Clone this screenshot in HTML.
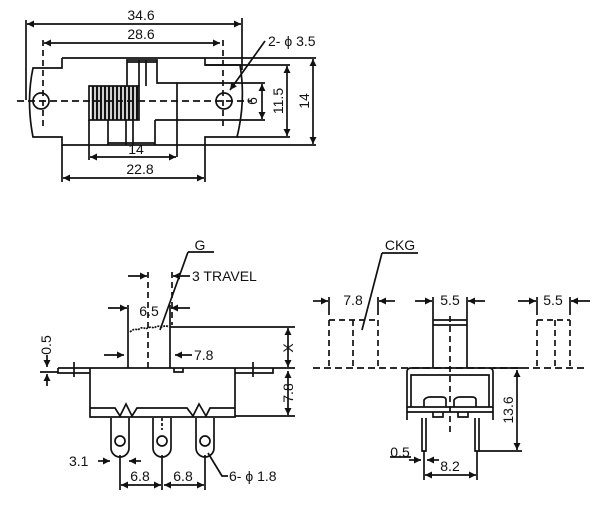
<!DOCTYPE html>
<html><head><meta charset="utf-8"><style>
html,body{margin:0;padding:0;background:#fff}
svg{display:block}
text{font-family:"Liberation Sans",sans-serif;font-size:14px;fill:#111}
</style></head><body>
<svg width="600" height="506" viewBox="0 0 600 506" xmlns="http://www.w3.org/2000/svg">
<defs>
<marker id="a" viewBox="0 0 10 10" refX="10" refY="5" markerWidth="9" markerHeight="7" orient="auto-start-reverse" markerUnits="userSpaceOnUse"><path d="M0,0L10,5L0,10z" fill="#111"/></marker>
</defs>
<g stroke="#111" stroke-width="1.7" fill="none">
<line x1="27" y1="24" x2="241" y2="24" marker-start="url(#a)" marker-end="url(#a)"/>
<line x1="44" y1="43" x2="220" y2="43" marker-start="url(#a)" marker-end="url(#a)"/>
<line x1="26" y1="20" x2="26" y2="100"/>
<line x1="242" y1="18" x2="242" y2="70"/>
<line x1="43" y1="40" x2="43" y2="126" stroke-dasharray="6,4"/>
<line x1="223" y1="40" x2="223" y2="126" stroke-dasharray="6,4"/>
<path d="M62,58 H205 M62,58 V68 H33 Q26,101 33,137 H62 V145 H205 V137 H237 Q246,101 240,65 H205 V58 M205,58 H316"/>
<line x1="205" y1="65" x2="290" y2="65"/>
<line x1="177" y1="83" x2="265" y2="83"/>
<line x1="155" y1="120" x2="265" y2="120"/>
<line x1="237" y1="137" x2="290" y2="137"/>
<line x1="205" y1="145" x2="316" y2="145"/>
<line x1="17" y1="101" x2="252" y2="101" stroke-dasharray="7,4"/>
<circle cx="41" cy="101" r="8"/>
<circle cx="224" cy="101" r="8"/>
<rect x="89" y="86" width="50" height="34"/>
<path d="M93,86V120M97,86V120M101,86V120M105,86V120M109,86V120M113,86V120M117,86V120M121,86V120M125,86V120M129,86V120M133,86V120M137,86V120" stroke-width="2.4"/>
<path d="M127,86 V60 H157 V83 H177 V157 M139,60 V86 M146,60 V86 M127,62 H157"/>
<path d="M108,120 V145 M126,120 V145 M133,120 V145 M155,120 V145 M108,143 H155 M89,120 V160"/>
<line x1="90" y1="157" x2="176" y2="157" marker-start="url(#a)" marker-end="url(#a)"/>
<line x1="62" y1="145" x2="62" y2="182"/>
<line x1="205" y1="145" x2="205" y2="182"/>
<line x1="63" y1="178" x2="204" y2="178" marker-start="url(#a)" marker-end="url(#a)"/>
<line x1="262" y1="84" x2="262" y2="119" marker-start="url(#a)" marker-end="url(#a)"/>
<line x1="287" y1="66" x2="287" y2="136" marker-start="url(#a)" marker-end="url(#a)"/>
<line x1="313" y1="59" x2="313" y2="144" marker-start="url(#a)" marker-end="url(#a)"/>
<line x1="265" y1="41" x2="230" y2="90" marker-end="url(#a)"/>
<path d="M188,252 H214 M188,252 L160,330"/>
<line x1="128" y1="276" x2="147" y2="276" marker-end="url(#a)"/>
<line x1="190" y1="276" x2="173" y2="276" marker-end="url(#a)"/>
<line x1="148" y1="272" x2="148" y2="368" stroke-dasharray="6,4"/>
<line x1="172" y1="272" x2="172" y2="325" stroke-dasharray="6,4"/>
<line x1="108" y1="308" x2="127" y2="308" marker-end="url(#a)"/>
<line x1="190" y1="308" x2="171" y2="308" marker-end="url(#a)"/>
<path d="M128,305 V368 M170,305 V368 M170,327 H295"/>
<path d="M130,332 Q134,328 138,330 Q142,326 146,329 Q150,326 154,328 Q158,325 162,327 Q166,325 169,327" stroke-dasharray="2,1"/>
<line x1="104" y1="355" x2="124" y2="355" marker-end="url(#a)"/>
<line x1="192" y1="355" x2="175" y2="355" marker-end="url(#a)"/>
<path d="M58,368 H295 M58,368 V373 H90 M235,373 H273 V368 M174,368 V372 H183 V368 M74,362 V377 M253,362 V377"/>
<path d="M90,368 V417 H235 V368 M90,408 H115 L120,416 L126,404 L132,416 L137,408 H187 L193,416 L199,404 L206,416 L210,408 H235 M235,416 H295"/>
<line x1="288" y1="328" x2="288" y2="367" marker-start="url(#a)" marker-end="url(#a)"/>
<line x1="288" y1="371" x2="288" y2="415" marker-start="url(#a)" marker-end="url(#a)"/>
<line x1="47" y1="355" x2="47" y2="367" marker-end="url(#a)"/>
<line x1="47" y1="386" x2="47" y2="374" marker-end="url(#a)"/>
<line x1="40" y1="372" x2="58" y2="372"/>
<path d="M111,418 V448 A9,9 0 0 0 129,448 V418 M153,418 V448 A9,9 0 0 0 171,448 V418 M196,418 V448 A9,9 0 0 0 214,448 V418"/>
<circle cx="120" cy="441" r="5"/><circle cx="162" cy="441" r="5"/><circle cx="205" cy="441" r="5"/>
<line x1="162" y1="418" x2="162" y2="430" stroke-dasharray="3,2"/>
<line x1="98" y1="461" x2="110" y2="461" marker-end="url(#a)"/>
<line x1="141" y1="461" x2="129" y2="461" marker-end="url(#a)"/>
<path d="M120,455 V490 M162,455 V490 M205,455 V490"/>
<line x1="121" y1="485" x2="161" y2="485" marker-start="url(#a)" marker-end="url(#a)"/>
<line x1="164" y1="485" x2="204" y2="485" marker-start="url(#a)" marker-end="url(#a)"/>
<path d="M208,453 L222,476 H228"/>
<path d="M382,253 H418 M382,253 L362,330"/>
<line x1="313" y1="368" x2="585" y2="368" stroke-dasharray="7,4"/>
<path d="M329,320 V368 M353,320 V368 M378,320 V368 M329,320 H378" stroke-dasharray="6,4"/>
<path d="M329,297 V315 M378,297 V315"/>
<line x1="313" y1="301" x2="328" y2="301" marker-end="url(#a)"/>
<line x1="395" y1="301" x2="379" y2="301" marker-end="url(#a)"/>
<path d="M433,297 V368 M467,297 V368 M433,320 H467 M433,325 H467"/>
<line x1="415" y1="301" x2="432" y2="301" marker-end="url(#a)"/>
<line x1="485" y1="301" x2="468" y2="301" marker-end="url(#a)"/>
<line x1="450" y1="316" x2="450" y2="435" stroke-dasharray="6,4"/>
<path d="M537,320 V368 M555,320 V368 M570,320 V368 M537,320 H570" stroke-dasharray="6,4"/>
<path d="M537,297 V315 M570,297 V315"/>
<line x1="518" y1="301" x2="536" y2="301" marker-end="url(#a)"/>
<line x1="590" y1="301" x2="571" y2="301" marker-end="url(#a)"/>
<path d="M407,420 V372 Q407,368 411,368 H489 Q493,368 493,372 V420 M411,407 V375 H489 V407 M407,407 H493 M407,412 H493"/>
<path d="M424,407 V400 Q426,397 430,397 H442 Q446,397 446,400 V407 M454,407 V400 Q456,397 460,397 H472 Q476,397 476,400 V407 M433,412 V417 H443 V412 M458,412 V417 H468 V412"/>
<path d="M422,418 V451 H426 V418 M475,418 V451 H479 V418"/>
<path d="M493,368 H522 M479,451 H522"/>
<line x1="517" y1="370" x2="517" y2="450" marker-start="url(#a)" marker-end="url(#a)"/>
<line x1="409" y1="460" x2="421" y2="460" marker-end="url(#a)"/>
<line x1="439" y1="460" x2="427" y2="460" marker-end="url(#a)"/>
<path d="M424,451 V480 M477,451 V480 M390,457 H411"/>
<line x1="425" y1="475" x2="476" y2="475" marker-start="url(#a)" marker-end="url(#a)"/>
</g>
<g>
<text x="141" y="20" text-anchor="middle">34.6</text>
<text x="141" y="39" text-anchor="middle">28.6</text>
<text x="268" y="46">2- ϕ 3.5</text>
<text x="136" y="154" text-anchor="middle">14</text>
<text x="140" y="174" text-anchor="middle">22.8</text>
<text transform="translate(257,101) rotate(-90)" text-anchor="middle">6</text>
<text transform="translate(283,101) rotate(-90)" text-anchor="middle">11.5</text>
<text transform="translate(309,101) rotate(-90)" text-anchor="middle">14</text>
<text x="200" y="250" text-anchor="middle">G</text>
<text x="192" y="281">3 TRAVEL</text>
<text x="149" y="316" text-anchor="middle">6.5</text>
<text x="194" y="360">7.8</text>
<text transform="translate(51,345) rotate(-90)" text-anchor="middle">0.5</text>
<text transform="translate(293,348) rotate(-90)" text-anchor="middle">X</text>
<text transform="translate(293,393) rotate(-90)" text-anchor="middle">7.8</text>
<text x="69" y="466">3.1</text>
<text x="140" y="481" text-anchor="middle">6.8</text>
<text x="183" y="481" text-anchor="middle">6.8</text>
<text x="229" y="481">6- ϕ 1.8</text>
<text x="400" y="250" text-anchor="middle">CKG</text>
<text x="353" y="305" text-anchor="middle">7.8</text>
<text x="450" y="305" text-anchor="middle">5.5</text>
<text x="553" y="305" text-anchor="middle">5.5</text>
<text transform="translate(513,410) rotate(-90)" text-anchor="middle">13.6</text>
<text x="400" y="457" text-anchor="middle">0.5</text>
<text x="450" y="471" text-anchor="middle">8.2</text>
</g>
</svg>
</body></html>
